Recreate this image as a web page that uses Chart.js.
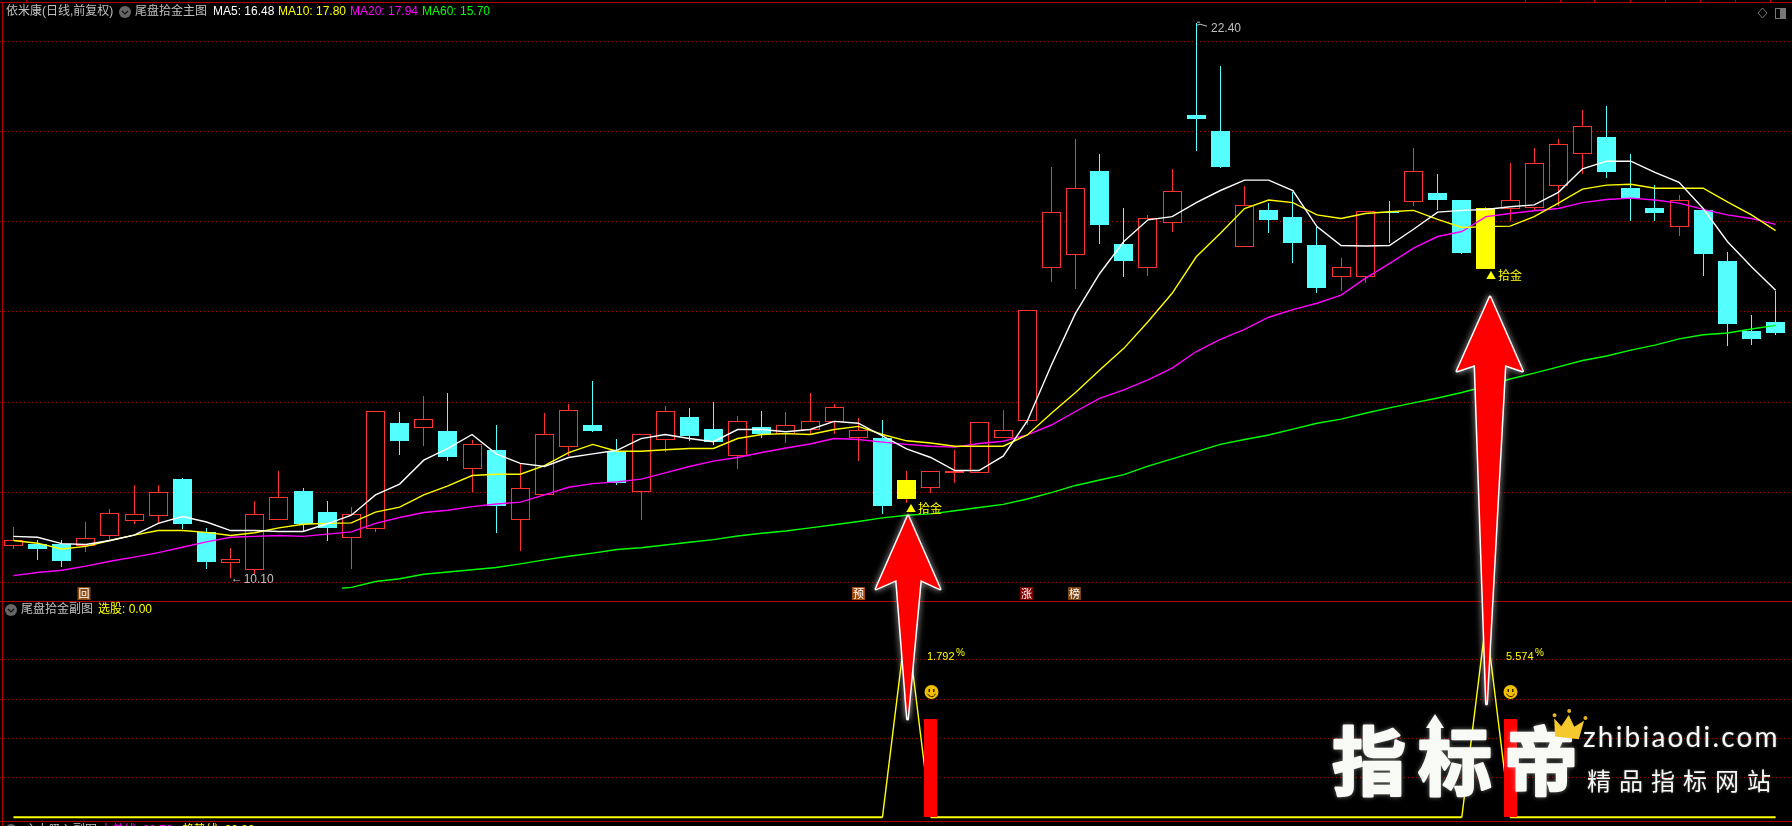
<!DOCTYPE html>
<html lang="zh">
<head>
<meta charset="utf-8">
<title>依米康 尾盘拾金</title>
<style>html,body{margin:0;padding:0;background:#000;overflow:hidden}canvas{display:block}</style>
<script src="https://cdn.jsdelivr.net/npm/chart.js@4/dist/chart.umd.min.js"></script>
</head>
<body>
<canvas id="c" width="1792" height="826"></canvas>
<script>
// ---- data ----
const opens = [10.80,10.86,10.85,10.81,11.04,11.37,11.48,12.29,11.11,10.43,10.28,11.39,12.03,11.56,10.99,11.19,13.53,13.43,13.36,12.52,12.94,11.39,11.94,13.01,13.49,12.91,12.01,13.16,13.67,13.40,12.81,13.45,13.28,13.39,13.56,13.21,13.20,12.27,12.10,12.43,12.43,13.21,13.59,16.98,17.27,19.12,17.50,16.98,17.98,20.36,20.01,17.44,18.26,18.10,17.48,16.78,16.78,18.22,18.44,18.63,18.48,18.30,18.27,18.31,18.80,19.49,19.88,18.75,18.30,17.87,18.26,17.13,15.57,15.77];
const closes = [10.93,10.75,10.47,10.98,11.55,11.51,12.00,11.29,10.45,10.51,11.51,11.89,11.29,11.21,11.51,13.79,13.14,13.62,12.78,13.06,11.69,12.09,13.28,13.82,13.36,12.20,13.28,13.79,13.25,13.11,13.57,13.29,13.50,13.59,13.90,13.37,11.69,11.85,12.48,12.47,13.55,13.37,16.03,18.21,18.74,17.92,17.13,18.09,18.67,20.28,19.21,18.36,18.04,17.53,16.53,16.99,18.23,18.20,19.12,18.48,17.30,16.96,18.49,19.29,19.71,20.11,19.10,18.52,18.19,18.47,17.28,15.73,15.40,15.53];
const highs = [11.23,10.94,10.94,11.34,11.62,12.16,12.16,12.31,11.21,10.76,11.80,12.47,12.09,11.80,11.67,13.79,13.78,14.13,14.20,13.16,13.49,12.65,13.76,13.96,14.47,13.18,13.28,13.91,13.87,14.00,13.69,13.80,13.78,14.20,13.96,13.65,13.60,12.47,12.48,12.94,13.55,13.82,16.03,19.21,19.83,19.50,18.30,18.15,19.17,22.40,21.45,18.79,18.41,18.66,17.89,17.19,18.23,18.46,19.63,19.06,18.48,18.32,19.30,19.63,19.83,20.47,20.56,19.50,18.81,18.59,18.26,17.33,15.93,16.46];
const lows = [10.74,10.50,10.35,10.67,10.95,11.29,11.29,11.18,10.30,10.10,10.19,11.39,11.12,10.92,10.30,11.12,12.82,13.02,12.69,12.00,11.10,10.70,11.94,12.80,13.34,12.16,11.39,12.90,13.14,13.05,12.51,13.20,13.09,13.28,13.28,12.69,11.52,11.76,11.98,12.20,12.43,13.21,13.49,16.66,16.51,17.50,16.77,16.79,17.77,19.57,19.19,17.44,17.75,17.08,16.42,16.46,16.64,17.53,18.35,18.26,17.28,16.96,18.01,18.26,18.35,19.06,18.97,18.01,18.01,17.68,16.79,15.24,15.26,15.49];
const ma5 = [11.02,11.00,10.86,10.84,10.93,11.05,11.31,11.46,11.34,11.15,11.15,11.13,11.13,11.30,11.49,11.94,12.18,12.71,12.97,13.28,12.85,12.64,12.57,12.77,12.85,12.93,13.19,13.28,13.19,13.12,13.39,13.39,13.34,13.39,13.57,13.53,13.25,12.96,12.77,12.48,12.48,12.80,13.58,14.82,15.97,16.85,17.56,18.04,18.11,18.42,18.69,18.92,18.92,18.69,17.89,17.47,17.46,17.47,17.83,18.21,18.25,18.27,18.33,18.37,18.65,19.17,19.34,19.34,19.09,18.87,18.29,17.56,17.00,16.48];
const ma10 = [10.93,10.87,10.74,10.80,10.93,11.05,11.15,11.15,11.11,11.04,11.10,11.21,11.29,11.31,11.32,11.56,11.67,11.94,12.14,12.37,12.40,12.40,12.59,12.88,13.06,12.91,12.91,12.94,12.97,12.97,13.19,13.28,13.30,13.28,13.39,13.46,13.28,13.14,13.09,13.02,13.02,13.02,13.27,13.75,14.21,14.71,15.19,15.78,16.41,17.22,17.74,18.29,18.48,18.42,18.15,18.07,18.18,18.22,18.25,18.05,17.87,17.89,17.90,18.11,18.41,18.72,18.81,18.83,18.74,18.74,18.74,18.44,18.15,17.80];
const ma20 = [10.15,10.22,10.27,10.36,10.47,10.56,10.66,10.78,10.90,11.00,11.02,11.04,11.02,11.07,11.12,11.31,11.44,11.55,11.60,11.68,11.74,11.78,11.94,12.11,12.19,12.23,12.29,12.43,12.57,12.69,12.77,12.88,12.98,13.07,13.19,13.17,13.11,13.06,13.02,13.00,13.08,13.13,13.27,13.49,13.79,14.08,14.27,14.49,14.75,15.12,15.39,15.61,15.88,16.05,16.19,16.37,16.74,17.07,17.41,17.67,17.78,18.11,18.18,18.24,18.29,18.42,18.49,18.52,18.48,18.41,18.27,18.15,18.07,17.94];
const ma60LeadX = 13.62, ma60LeadValue = 9.87;
const ma60Start = 14;
const ma60 = [9.89,10.02,10.08,10.18,10.23,10.28,10.33,10.41,10.50,10.58,10.65,10.73,10.77,10.83,10.89,10.95,11.03,11.09,11.14,11.21,11.28,11.35,11.43,11.49,11.52,11.59,11.66,11.73,11.85,11.99,12.15,12.27,12.39,12.58,12.74,12.90,13.06,13.17,13.27,13.40,13.53,13.62,13.75,13.87,13.98,14.09,14.21,14.35,14.51,14.64,14.78,14.92,15.02,15.15,15.26,15.40,15.49,15.53,15.62,15.70];
const signalDays = [37, 61];
const subLine = [0,0,0,0,0,0,0,0,0,0,0,0,0,0,0,0,0,0,0,0,0,0,0,0,0,0,0,0,0,0,0,0,0,0,0,0,0,1,0,0,0,0,0,0,0,0,0,0,0,0,0,0,0,0,0,0,0,0,0,0,0,1,0,0,0,0,0,0,0,0,0,0,0,0];
const subBarDays = [38, 62];
const subBarValues = [0.5, 0.5];
const subPercents = ['1.792', '5.574'];
const priceTicks = [10,12,14,16,18,20,22];
const subTicks = [0.2,0.4,0.6,0.8];
const legendLabels = ['MA5: 16.48','MA10: 17.80','MA20: 17.94','MA60: 15.70'];
const lowLabel = '10.10', highLabel = '22.40';
const lowDay = 9, highDay = 49;

// ---- styling ----
const RED='#ff3232', CYAN='#54ffff', YEL='#ffff00', MAG='#ff00ff', GRN='#00ff00', WHT='#ffffff', GRID='#b00000', FRAME='#b00000', GRAY='#c0c0c0';
const FONT='12px "Liberation Sans","Noto Sans CJK SC"';
const days = opens.map((_,i)=>i);
const isSig = i=>signalDays.includes(i);
const up = i=>closes[i]>=opens[i];
const candleColor = i=> isSig(i)? RED : (up(i)?RED:CYAN);

const axisBase = { position:'left', afterFit(s){s.width=0;}, ticks:{display:false}, border:{display:false,dash:[1,3]}, grid:{color:GRID,lineWidth:1,drawTicks:false,tickLength:0} };

// bars snapped to whole pixels for crisp edges
const snap = { id:'snap', beforeDatasetsDraw(chart){
  chart.getSortedVisibleDatasetMetas().forEach(m=>{
    if(m.type!=='bar') return;
    m.data.forEach(el=>{
      el.x=Math.floor(el.x)+0.5;
      const a=Math.round(el.y), b=Math.round(el.base);
      el.y=a; el.base=(a===b)?a+1:b;
    });
  });
}};

function T(ctx,s,x,y,color,font,align){ctx.font=font||FONT;ctx.fillStyle=color;ctx.textAlign=align||'left';ctx.textBaseline='middle';ctx.fillText(s,x,y);}
function chevronDot(ctx,x,y){ctx.beginPath();ctx.arc(x,y,6,0,7);ctx.fillStyle='#666';ctx.fill();ctx.beginPath();ctx.moveTo(x-3,y-1);ctx.lineTo(x,y+2);ctx.lineTo(x+3,y-1);ctx.strokeStyle='#111';ctx.lineWidth=1.2;ctx.stroke();}
function tag(ctx,ch,x,y,bg){ctx.fillStyle=bg;ctx.fillRect(x-6.5,y-6.5,13,13);T(ctx,ch,x,y,'#fff','11px "Noto Sans CJK SC"','center');}
function arrow(ctx,a){
  ctx.save();
  ctx.beginPath();
  ctx.moveTo(a.tx,a.ty);ctx.lineTo(a.rx,a.by);ctx.lineTo(a.nr,a.ny);ctx.lineTo(a.ex,a.ey);ctx.lineTo(a.nl,a.ny);ctx.lineTo(a.lx,a.by);ctx.closePath();
  ctx.lineJoin='round';ctx.shadowColor='rgba(255,255,255,.8)';ctx.shadowBlur=6;
  ctx.strokeStyle='#fff';ctx.lineWidth=3;ctx.stroke();
  ctx.shadowBlur=0;ctx.fillStyle='#ff0000';ctx.fill();
  ctx.restore();
}
function smiley(ctx,x,y){
  ctx.beginPath();ctx.arc(x,y,7,0,7);ctx.fillStyle='#eec000';ctx.fill();
  ctx.fillStyle='#402000';ctx.fillRect(x-3,y-3,1.5,3);ctx.fillRect(x+1.5,y-3,1.5,3);
  ctx.beginPath();ctx.arc(x,y+0.5,4,0.3,Math.PI-0.3);ctx.strokeStyle='#402000';ctx.lineWidth=1;ctx.stroke();
}
function crown(ctx,x,y){
  ctx.save();ctx.translate(x,y);ctx.rotate(0.12);
  ctx.fillStyle='#f5c92e';ctx.beginPath();
  ctx.moveTo(-15,-9);ctx.lineTo(-7,-2);ctx.lineTo(-1,-14);ctx.lineTo(6,-3);ctx.lineTo(15,-10);ctx.lineTo(12,9);ctx.lineTo(-12,9);ctx.closePath();ctx.fill();
  ctx.fillStyle='#e8b020';[[-15,-12],[-1,-18],[16,-13]].forEach(p=>{ctx.beginPath();ctx.arc(p[0],p[1],2,0,7);ctx.fill();});
  ctx.restore();
}
const overlay = { id:'overlay', afterDatasetsDraw(chart){
  const ctx=chart.ctx, X=chart.scales.x, Y=chart.scales.y;
  ctx.save();
  ctx.fillStyle=FRAME;
  ctx.fillRect(0,2,1792,1);ctx.fillRect(2,2,1,824);ctx.fillRect(0,601,1792,1);ctx.fillRect(0,821,1792,1);
  [26,1525,1560,1594,1630,1665,1700,1735,1770].forEach(x=>ctx.fillRect(x,0,1,2));
  T(ctx,'依米康(日线,前复权)',6,12,GRAY);
  chevronDot(ctx,125,12);
  T(ctx,'尾盘拾金主图',135,12,GRAY);
  [[213,WHT],[278,YEL],[350,MAG],[422,GRN]].forEach((p,i)=>T(ctx,legendLabels[i],p[0],12,p[1]));
  ctx.strokeStyle='#777';ctx.lineWidth=1;
  ctx.beginPath();ctx.moveTo(1762.5,8);ctx.lineTo(1767,13);ctx.lineTo(1762.5,18);ctx.lineTo(1758,13);ctx.closePath();ctx.stroke();
  ctx.strokeRect(1775.5,8.5,10,10);ctx.fillStyle='#777';ctx.fillRect(1780,9,5,9);
  const lx=X.getPixelForValue(lowDay), ly=Y.getPixelForValue(lows[lowDay]);
  T(ctx,'←',lx,ly+1,GRAY);T(ctx,lowLabel,lx+13,ly+2,GRAY);
  const hx=Math.floor(X.getPixelForValue(highDay)), hy=Y.getPixelForValue(highs[highDay]);
  ctx.strokeStyle=GRAY;ctx.lineWidth=1;ctx.beginPath();ctx.moveTo(hx+1,hy-1);ctx.lineTo(hx+4,hy-1);ctx.moveTo(hx+1,hy+2);ctx.lineTo(hx+4,hy+1);ctx.lineTo(hx+11,hy+3);ctx.stroke();
  T(ctx,highLabel,hx+15,hy+6,GRAY);
  const pick=[[906,508],[1486,275]];
  signalDays.forEach((d,i)=>{
    T(ctx,'▲',pick[i][0],pick[i][1],YEL,'10px "Noto Sans CJK SC"');
    T(ctx,'拾金',pick[i][0]+12,pick[i][1],YEL,'12px "Noto Sans CJK SC"');
  });
  tag(ctx,'回',84,593.5,'#8a4a14');
  tag(ctx,'预',858.5,593.5,'#a04a10');
  tag(ctx,'涨',1026.5,593.5,'#800000');
  tag(ctx,'榜',1074.5,593.5,'#7a4510');
  chevronDot(ctx,11,610);
  T(ctx,'尾盘拾金副图',21,610,GRAY);
  T(ctx,'选股: 0.00',98,610,YEL);
  chevronDot(ctx,11,830);
  T(ctx,'主力吸入副图',25,831,GRAY);
  T(ctx,'大单线: 00.70',100,831,MAG);
  T(ctx,'趋势线: 00.00',182,831,YEL);
  subBarDays.forEach((d,i)=>{
    const x=Math.round(X.getPixelForValue(d));
    T(ctx,subPercents[i],x-4,657,YEL,'11px "Liberation Sans"');
    T(ctx,'%',x+25,653,YEL,'10px "Liberation Sans"');
    smiley(ctx,x+0.5,692);
  });
  arrow(ctx,{tx:908,ty:516,lx:876,rx:940,by:589,nl:896.5,nr:920.5,ny:580,ex:907.5,ey:719});
  arrow(ctx,{tx:1490,ty:297,lx:1457,rx:1522.5,by:371,nl:1475,nr:1505,ny:365,ex:1486.5,ey:704});
  ctx.shadowColor='rgba(255,255,255,.35)';ctx.shadowBlur=5;
  ctx.strokeStyle='#f8faf6';ctx.lineWidth=2.5;ctx.lineJoin='round';
  [['指',1369],['标',1455],['帝',1541]].forEach(p=>{
    T(ctx,p[0],p[1],761,'#f8faf6','bold 74px "Noto Sans CJK SC"','center');
    ctx.strokeText(p[0],p[1],761);
  });
  ctx.fillStyle='#f8faf6';ctx.beginPath();ctx.moveTo(1435,714);ctx.lineTo(1444,728);ctx.lineTo(1426,728);ctx.closePath();ctx.fill();
  ctx.shadowBlur=3;
  ctx.letterSpacing='2.2px';
  T(ctx,'zhibiaodi.com',1583,738,'#f8faf6','28px Lato');
  ctx.letterSpacing='8px';
  T(ctx,'精品指标网站',1587,781,'#f8faf6','24px "Noto Sans CJK SC"');
  ctx.letterSpacing='0px';
  ctx.shadowBlur=0;
  crown(ctx,1568,729);
  ctx.restore();
}};
const blackBg = { id:'blackBg', beforeDraw(chart){const c=chart.ctx;c.save();c.fillStyle='#000';c.fillRect(0,0,chart.width,chart.height);c.restore();}};

const line=(label,data,color,order,extra)=>Object.assign({type:'line',label,data,borderColor:color,borderWidth:1.4,pointRadius:0,tension:0,order,yAxisID:'y'},extra||{});

new Chart(document.getElementById('c'),{
  data:{datasets:[
    {type:'bar',label:'wick',order:20,yAxisID:'y',grouped:false,barPercentage:1,categoryPercentage:1,maxBarThickness:1,
      data:days.map(i=>({x:i,y:[lows[i],highs[i]]})),
      backgroundColor:c=>candleColor(c.dataIndex),borderWidth:0,inflateAmount:0},
    {type:'bar',label:'body',order:19,yAxisID:'y',grouped:false,barPercentage:1,categoryPercentage:1,maxBarThickness:19,
      data:days.map(i=>({x:i,y:[opens[i],closes[i]]})),
      backgroundColor:c=>isSig(c.dataIndex)?YEL:(up(c.dataIndex)?'#000':CYAN),
      borderColor:c=>isSig(c.dataIndex)?YEL:(up(c.dataIndex)?RED:CYAN),
      borderWidth:1,borderSkipped:false,inflateAmount:0},
    line('MA60',[{x:ma60LeadX,y:ma60LeadValue}].concat(ma60.map((v,i)=>({x:i+ma60Start,y:v}))),GRN,4),
    line('MA20',ma20.map((v,i)=>({x:i,y:v})),MAG,3),
    line('MA10',ma10.map((v,i)=>({x:i,y:v})),YEL,2),
    line('MA5',ma5.map((v,i)=>({x:i,y:v})),WHT,1),
    {type:'line',label:'信号',order:6,yAxisID:'y2',data:subLine.map((v,i)=>({x:i,y:v})),borderColor:YEL,borderWidth:1.4,pointRadius:0,tension:0,
      segment:{borderWidth:c=>(c.p0.parsed.y===0&&c.p1.parsed.y===0)?2:1.4}},
    {type:'bar',label:'选股',order:5,yAxisID:'y2',grouped:false,barPercentage:1,categoryPercentage:1,maxBarThickness:13,
      data:subBarDays.map((d,i)=>({x:d,y:[0,subBarValues[i]]})),backgroundColor:'#ff0000',borderWidth:0,inflateAmount:0}
  ]},
  options:{
    responsive:false,animation:false,events:[],
    layout:{padding:0},
    plugins:{legend:{display:false},tooltip:{enabled:false},title:{display:false}},
    scales:{
      x:{type:'linear',display:false,min:-13.4/24.14,max:(1792-13.4)/24.14,offset:false},
      y:Object.assign({},axisBase,{min:4.599,max:22.914,afterBuildTicks(s){s.ticks=priceTicks.map(value=>({value}));}}),
      y2:Object.assign({},axisBase,{min:-0.04408,max:4.1558,afterBuildTicks(s){s.ticks=subTicks.map(value=>({value}));}})
    }
  },
  plugins:[blackBg,snap,overlay]
});
</script>
</body>
</html>
